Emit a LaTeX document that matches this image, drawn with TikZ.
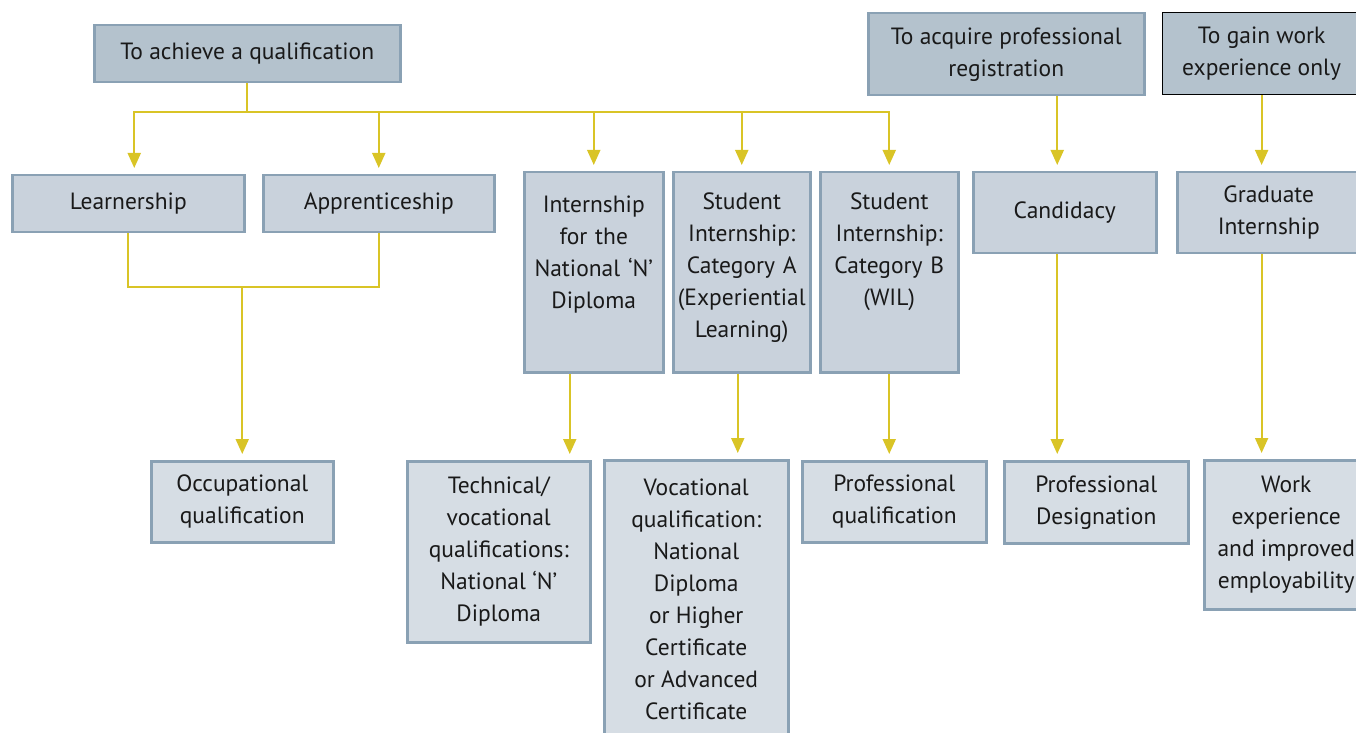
\documentclass[tikz,border=0pt]{standalone}
\usepackage{fontspec}
\setmainfont{PT Sans}
\usetikzlibrary{arrows.meta, positioning, backgrounds}
\definecolor{pathedge}{RGB}{138, 161, 180}
\definecolor{pathtop}{RGB}{180, 194, 205}
\definecolor{pathmid}{RGB}{201, 210, 220}
\definecolor{pathlow}{RGB}{214, 221, 228}
\definecolor{pathyellow}{RGB}{217, 196, 38}

\begin{document}
\begin{tikzpicture}[
    x=1pt, y=1pt,
    block/.style={
        rectangle,
        draw=pathedge,
        line width=2.5pt,
        inner sep=0pt,
        align=center,
        anchor=north west,
        text=black!90,
        font=\fontsize{23.5}{32}\selectfont
    },
    goal/.style={block, fill=pathtop},
    route/.style={block, fill=pathmid},
    outcome/.style={block, fill=pathlow},
    arrow/.style={
        -{Triangle[width=13pt,length=15pt]},
        line width=2pt,
        pathyellow,
        shorten >=6pt
    },
    link/.style={
        line width=2pt,
        pathyellow
    }
]

\useasboundingbox (0,0) rectangle (1356,732);

% Goals
\node[goal, minimum width=306pt, minimum height=57pt] (achieve) at (93,708) {To achieve a qualification};
\node[goal, minimum width=276pt, minimum height=82pt] (acquire) at (867,720) {To acquire professional\\registration};
\node[goal, draw=black, line width=1.2pt, minimum width=198pt, minimum height=82pt] (gain) at (1162,720) {To gain work\\experience only};

% Routes
\node[route, minimum width=232pt, minimum height=57pt] (learn) at (11,558) {Learnership};
\node[route, minimum width=231pt, minimum height=57pt] (appr) at (262,558) {Apprenticeship};
\node[route, text width=139pt, text height=40pt, text depth=160pt] (intn) at (523,561) {Internship\\for the\\National ‘N’\\Diploma};
\node[route, text width=137pt, text height=37pt, text depth=163pt] (cata) at (672,561) {Student\\Internship:\\Category A\\(Experiential\\Learning)};
\node[route, text width=138pt, text height=37pt, text depth=163pt] (catb) at (819,561) {Student\\Internship:\\Category B\\(WIL)};
\node[route, minimum width=183pt, minimum height=81pt] (cand) at (972,561) {Candidacy};
\node[route, minimum width=183pt, minimum height=81pt] (grad) at (1176,561) {Graduate\\Internship};

% Outcomes
\node[outcome, minimum width=182pt, minimum height=81pt] (occ) at (150,272) {Occupational\\qualification};
\node[outcome, minimum width=183pt, minimum height=181pt] (tech) at (406,272) {Technical/\\vocational\\qualifications:\\National ‘N’\\Diploma};
\node[outcome, minimum width=184pt, minimum height=278pt] (voc) at (603,273) {Vocational\\qualification:\\National\\Diploma\\or Higher\\Certificate\\or Advanced\\Certificate};
\node[outcome, minimum width=184pt, minimum height=81pt] (profq) at (801,272) {Professional\\qualification};
\node[outcome, minimum width=184pt, minimum height=82pt] (profd) at (1003,272) {Professional\\Designation};
\node[outcome, minimum width=164pt, minimum height=149pt] (work) at (1203,273) {Work\\experience\\and improved\\employability};

% Arrows
\begin{scope}[on background layer]
\coordinate (split) at ([yshift=-29pt]achieve.south);
\draw[link] (achieve.south) -- (split);
\draw[arrow] (split) -| ([xshift=6pt]learn.north);
\draw[arrow] (split) -| (appr.north);
\draw[arrow] (split) -| (intn.north);
\draw[arrow] (split) -| (cata.north);
\draw[arrow] (split) -| (catb.north);

\draw[link] (learn.south) -- ++(0,-54) coordinate (fork) -| (appr.south);
\draw[arrow] (fork -| occ.north) -- (occ.north);

\coordinate (tline) at ([xshift=-24pt]intn.south);
\draw[arrow] (tline) -- (tline |- tech.north);
\coordinate (vline) at ([xshift=-4pt]cata.south);
\draw[arrow] (vline) -- (vline |- voc.north);
\draw[arrow] (catb.south) -- (catb.south |- profq.north);

\coordinate (regline) at ([xshift=51pt]acquire.south);
\draw[arrow] (regline) -- (regline |- cand.north);
\draw[arrow] (regline |- cand.south) -- (regline |- profd.north);

\draw[arrow] (gain.south) -- (gain.south |- grad.north);
\draw[arrow] (gain.south |- grad.south) -- (gain.south |- work.north);
\end{scope}

\end{tikzpicture}
\end{document}
